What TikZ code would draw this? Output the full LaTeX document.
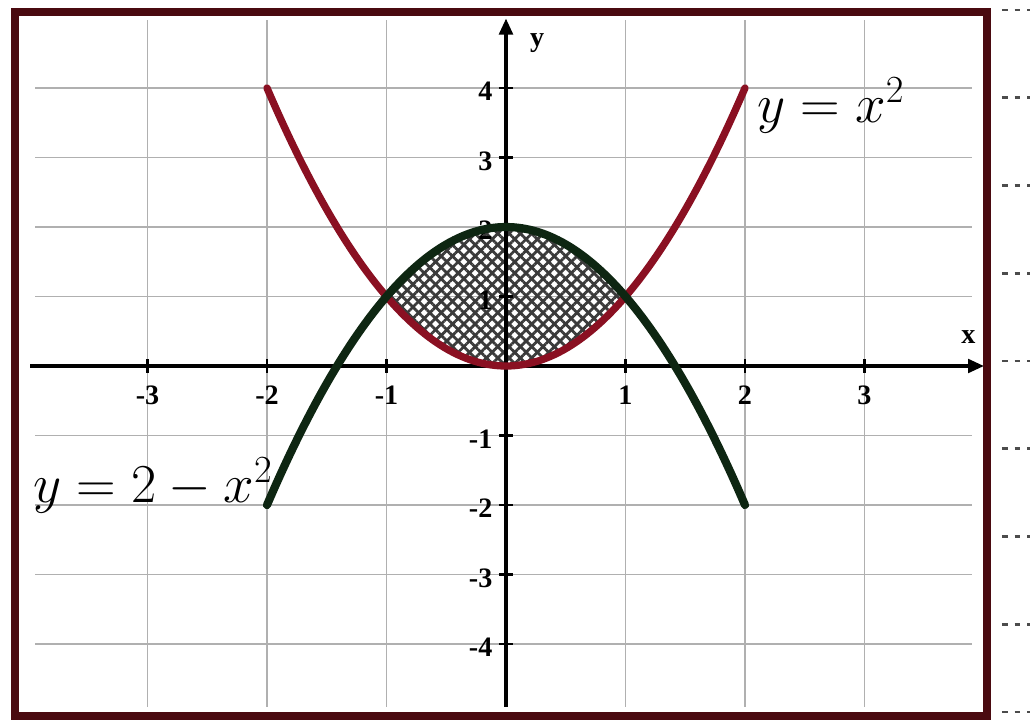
\RequirePackage{fix-cm}
\documentclass[tikz,border=0pt]{standalone}
\usepackage{fontspec}
\setmainfont{Liberation Serif}
\usetikzlibrary{arrows.meta,patterns.meta}
\definecolor{framered}{HTML}{4A0A10}
\definecolor{cupred}{HTML}{8A1022}
\definecolor{capgreen}{HTML}{0E2612}
\definecolor{gridgray}{HTML}{B0B0B0}
\definecolor{hatchgray}{HTML}{3A3A3A}
\tikzset{
  gridline/.style={draw=gridgray, line width=1pt},
  axisline/.style={line width=2.4pt, -{Triangle[length=4mm,width=3.4mm]}},
  tickbar/.style={line width=1.5pt},
  ticklabel/.style={font=\fontsize{20}{22}\selectfont\bfseries, inner sep=1pt},
  curvelabel/.style={font=\fontsize{39}{44}\selectfont, inner sep=0pt},
  cupcurve/.style={draw=cupred, line width=5.2pt, line cap=round},
  capcurve/.style={draw=capgreen, line width=5.8pt, line cap=round},
  answerdots/.style={draw=black!70, line width=2pt, dash pattern=on 4pt off 5pt}
}

\begin{document}
\begin{tikzpicture}[x=2.9875cm, y=1.7375cm]
    \useasboundingbox (-4.2343,-5.0935) rectangle (4.3849,5.2662);
    % grid
    \foreach \gy in {-4,...,4} \draw[gridline] (-3.94,\gy) -- (3.9,\gy);
    \foreach \gx in {-3,...,3} \draw[gridline] (\gx,-4.9) -- (\gx,4.98);
    % region between the two curves
    \path[pattern={Lines[angle=45,distance=2mm,line width=0.7mm]}, pattern color=hatchgray,
      postaction={pattern={Lines[angle=-45,distance=2mm,line width=0.7mm]}, pattern color=hatchgray}]
      plot[domain=-1:1, samples=41, smooth] (\x,{(\x)*(\x)})
      -- plot[domain=1:-1, samples=41, smooth] (\x,{2-(\x)*(\x)}) -- cycle;
    % axes
    \coordinate (xstart) at (-3.98,0);
    \coordinate (xend) at (4.0,0);
    \coordinate (ystart) at (0,-4.9);
    \coordinate (yend) at (0,5.0);
    \draw[axisline] (xstart) -- (xend);
    \draw[axisline] (ystart) -- (yend);
    \node[ticklabel] (xname) at (3.87,0.42) {x};
    \node[ticklabel] (yname) at (0.26,4.65) {y};
    \foreach \t in {-3,-2,-1,1,2,3} {
      \draw[tickbar] (\t,-0.1) -- (\t,0.1);
      \node[ticklabel] (xt\t) at (\t,-0.42) {\t};
    }
    \foreach \t in {-4,-3,-2,-1,1,2,3,4} {
      \draw[tickbar] (-0.06,\t) -- (0.06,\t);
      \node[ticklabel, anchor=east] (yt\t) at (-0.1,\t-0.05) {\t};
    }
    % curves
    \draw[cupcurve] plot[domain=-2:2, samples=61, smooth] (\x,{(\x)*(\x)});
    \draw[capcurve] plot[domain=-2:2, samples=61, smooth] (\x,{2-(\x)*(\x)});
    \node[curvelabel, anchor=base west] (cuplabel) at (2.1,3.5) {$y=x^2$};
    \node[curvelabel, anchor=base west] (caplabel) at (-3.958,-1.957) {$y=2-x^2$};
    % frame and answer lines
    \draw[framered, line width=0.2cm] (-4.109,-5.036) rectangle (4.025,5.094);
    \foreach \k in {0,...,8}
      \draw[answerdots] (4.15,{5.122-1.2626*\k}) -- (4.40,{5.122-1.2626*\k});
  \end{tikzpicture}
\end{document}
